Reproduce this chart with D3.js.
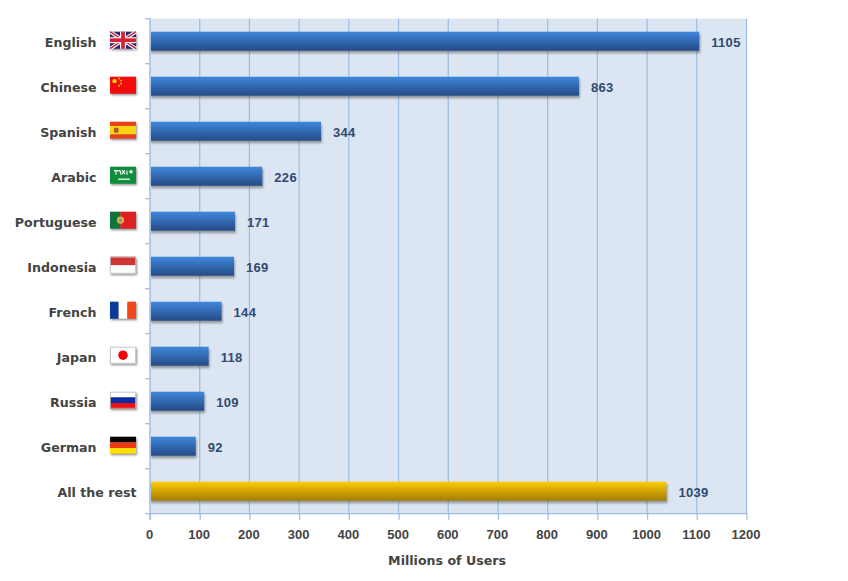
<!DOCTYPE html>
<html>
<head>
<meta charset="utf-8">
<script src="https://cdnjs.cloudflare.com/ajax/libs/d3/7.8.5/d3.min.js"></script>
<style>
html,body{margin:0;padding:0;background:#fff;}
svg{display:block;font-family:"Liberation Sans",Arial,sans-serif;}
.wide{font-family:"DejaVu Sans",sans-serif;}
</style>
</head>
<body>
<svg id="chart" width="848" height="581"></svg>
<script>
// Internet users by language, millions
const languages = ["English","Chinese","Spanish","Arabic","Portuguese","Indonesia","French","Japan","Russia","German","All the rest"];
const users = [1105,863,344,226,171,169,144,118,109,92,1039];
const xTicks = [0,100,200,300,400,500,600,700,800,900,1000,1100,1200];
const axisTitle = "Millions of Users";

const svg = d3.select("#chart");
const frame = {left:150, right:746.5, top:18.7, bottom:513.7};

const x = d3.scaleLinear().domain([0,1200]).range([frame.left, frame.right]);
const y = d3.scaleBand().domain(languages).range([frame.top, frame.bottom]);

const defs = svg.append("defs");
function barGradient(id, top, bottom){
  const g = defs.append("linearGradient").attr("id",id).attr("x1",0).attr("y1",0).attr("x2",0).attr("y2",1);
  g.append("stop").attr("offset","0%").attr("stop-color",top);
  g.append("stop").attr("offset","100%").attr("stop-color",bottom);
}
barGradient("barBlue","#3f88dc","#244a85");
barGradient("barGold","#fdcd00","#a57c06");
defs.append("filter").attr("id","soft").attr("x","-10%").attr("y","-30%").attr("width","120%").attr("height","160%")
  .append("feGaussianBlur").attr("stdDeviation",1.1);

// Plot background
svg.append("rect")
  .attr("x",frame.left).attr("y",frame.top)
  .attr("width",frame.right-frame.left).attr("height",frame.bottom-frame.top)
  .attr("fill","#dce6f2");

const axisColor = "#9bbce2";

// Vertical grid
svg.append("g").selectAll("line").data(xTicks.slice(1)).join("line")
  .attr("x1",d=>x(d)).attr("x2",d=>x(d))
  .attr("y1",frame.top).attr("y2",frame.bottom)
  .attr("stroke",axisColor).attr("stroke-width",1.2);

// Bars with their soft drop shadow
const barHeight = 19;
const barY = d => y(d)+(y.bandwidth()-barHeight)/2;
const rows = languages.map((name,i)=>({name,value:users[i]}));

svg.append("g").selectAll("rect").data(rows).join("rect")
  .attr("x",x(0)+1).attr("y",d=>barY(d.name)+2.5)
  .attr("width",d=>x(d.value)-x(0)).attr("height",barHeight)
  .attr("fill","#5a5a5a").attr("opacity",0.55).attr("filter","url(#soft)");

svg.append("g").selectAll("rect").data(rows).join("rect")
  .attr("x",x(0)+1).attr("y",d=>barY(d.name))
  .attr("width",d=>x(d.value)-x(0)-1).attr("height",barHeight)
  .attr("fill",d=>d.name==="All the rest"?"url(#barGold)":"url(#barBlue)");

// Value labels
svg.append("g").selectAll("text").data(rows).join("text")
  .attr("x",d=>x(d.value)+12).attr("y",d=>y(d.name)+y.bandwidth()/2+1)
  .attr("dy","0.36em")
  .attr("font-size",13).attr("font-weight","bold").attr("fill","#2f4a72")
  .attr("letter-spacing",0.3)
  .text(d=>d.value);

// Axes
const xAxis = svg.append("g").attr("transform",`translate(0,${frame.bottom})`)
  .call(d3.axisBottom(x).tickValues(xTicks).tickSize(6).tickPadding(10).tickFormat(d3.format("d")));
xAxis.selectAll("text").attr("font-size",13).attr("font-weight","bold").attr("fill","#444")
  .attr("font-family","inherit").attr("dx",-1);
xAxis.selectAll("line").attr("stroke",axisColor).attr("stroke-width",1.2);
xAxis.select(".domain").attr("stroke",axisColor).attr("stroke-width",1.2).attr("d",`M${frame.left},0H${frame.right}`);

const leftAxis = svg.append("g");
const bandEdges = d3.range(languages.length+1).map(i=>frame.top+i*y.step());
leftAxis.selectAll("line.edge").data(bandEdges).join("line").attr("class","edge")
  .attr("x1",frame.left-5).attr("x2",frame.left)
  .attr("y1",d=>d).attr("y2",d=>d)
  .attr("stroke",axisColor).attr("stroke-width",1.2);
leftAxis.append("line")
  .attr("x1",frame.left).attr("x2",frame.left)
  .attr("y1",frame.top-1).attr("y2",frame.bottom+6)
  .attr("stroke",axisColor).attr("stroke-width",1.4);

// Category labels; the last row has no flag so it sits closer to the axis
svg.append("g").selectAll("text").data(rows).join("text")
  .attr("class","wide")
  .attr("x",d=>d.name==="All the rest"?136.5:96.5)
  .attr("y",d=>y(d.name)+y.bandwidth()/2+1)
  .attr("dy","0.36em").attr("text-anchor","end")
  .attr("font-size",12.6).attr("font-weight","bold").attr("fill","#444")
  .text(d=>d.name);

// Axis title
svg.append("text").attr("class","wide").attr("x",447).attr("y",565).attr("text-anchor","middle")
  .attr("font-size",12.6).attr("font-weight","bold").attr("fill","#444").text(axisTitle);

// Flag artwork, each drawn in a 26x17 box
const W=26, H=17;
function stripesH(g,cols,weights){
  const total=d3.sum(weights||cols.map(()=>1)); let yy=0;
  cols.forEach((c,i)=>{const h=H*(weights?weights[i]:1)/total;
    g.append("rect").attr("y",yy).attr("width",W).attr("height",h).attr("fill",c); yy+=h;});
}
function stripesV(g,cols,weights){
  const total=d3.sum(weights||cols.map(()=>1)); let xx=0;
  cols.forEach((c,i)=>{const w=W*(weights?weights[i]:1)/total;
    g.append("rect").attr("x",xx).attr("width",w).attr("height",H).attr("fill",c); xx+=w;});
}
const line=(g,x1,y1,x2,y2,c,w)=>g.append("line").attr("x1",x1).attr("y1",y1).attr("x2",x2).attr("y2",y2).attr("stroke",c).attr("stroke-width",w);
const flags = {
  English(g){
    g.append("rect").attr("width",W).attr("height",H).attr("fill","#1c2a74");
    line(g,0,0,W,H,"#fff",3.6); line(g,W,0,0,H,"#fff",3.6);
    line(g,0,0,W,H,"#d0223a",1.6); line(g,W,0,0,H,"#d0223a",1.6);
    line(g,W/2,0,W/2,H,"#fff",6); line(g,0,H/2,W,H/2,"#fff",6);
    line(g,W/2,0,W/2,H,"#d8203a",3.8); line(g,0,H/2,W,H/2,"#d8203a",3.8);
  },
  Chinese(g){
    g.append("rect").attr("width",W).attr("height",H).attr("fill","#f40b0b");
    g.append("circle").attr("cx",4.5).attr("cy",4.5).attr("r",2.1).attr("fill","#ffd800");
    [[9,1.8],[11,4],[11,7],[9,9]].forEach(p=>g.append("circle").attr("cx",p[0]).attr("cy",p[1]).attr("r",0.9).attr("fill","#ffd800"));
  },
  Spanish(g){
    stripesH(g,["#e8401c","#fbd410","#e8401c"],[1,2,1]);
    g.append("rect").attr("x",4).attr("y",6).attr("width",4.5).attr("height",5).attr("rx",1).attr("fill","#b8562a");
  },
  Arabic(g){
    g.append("rect").attr("width",W).attr("height",H).attr("fill","#0f8f3c");
    line(g,4,4,10,4,"#fff",1.3); line(g,6,4,6,8,"#fff",1.1); line(g,10,4,11,8,"#fff",1.1);
    line(g,12,3.5,15,7.5,"#fff",1.1); line(g,15,3.5,12,7.5,"#fff",1.1); line(g,17,4,17,8,"#fff",1.1);
    g.append("circle").attr("cx",21).attr("cy",5).attr("r",1.7).attr("fill","#fff");
    line(g,8,12.5,20,12.5,"#fff",1.2);
  },
  Portuguese(g){
    stripesV(g,["#11743c","#df2020"],[2,3]);
    g.append("circle").attr("cx",10.5).attr("cy",8.5).attr("r",3.6).attr("fill","#e2b23a");
    g.append("circle").attr("cx",10.5).attr("cy",8.5).attr("r",1.7).attr("fill","#7d8fb8");
  },
  Indonesia(g){ stripesH(g,["#cf3535","#ffffff"]); },
  French(g){ stripesV(g,["#0a3a9c","#ffffff","#f4471a"]); },
  Japan(g){
    g.append("rect").attr("width",W).attr("height",H).attr("fill","#fff");
    g.append("circle").attr("cx",W/2).attr("cy",H/2).attr("r",4.8).attr("fill","#ee0a0a");
  },
  Russia(g){ stripesH(g,["#ffffff","#0a2aa8","#ef1010"]); },
  German(g){ stripesH(g,["#060606","#ef3b10","#ffdf00"]); }
};

const flagRows = svg.append("g").selectAll("g").data(rows.filter(d=>flags[d.name])).join("g")
  .attr("transform",d=>`translate(110,${y(d.name)+y.bandwidth()/2-9.5})`);
flagRows.append("rect").attr("x",1).attr("y",1.5).attr("width",W).attr("height",H)
  .attr("fill","#555").attr("opacity",0.65).attr("filter","url(#soft)");
flagRows.each(function(d){
  const g=d3.select(this).append("g");
  flags[d.name](g);
  if(["Indonesia","Japan","Russia"].includes(d.name)){
    g.append("rect").attr("x",0.5).attr("y",0.5).attr("width",W-1).attr("height",H-1)
      .attr("fill","none").attr("stroke","#bbb").attr("stroke-width",0.8);
  }
});
</script>
</body>
</html>
